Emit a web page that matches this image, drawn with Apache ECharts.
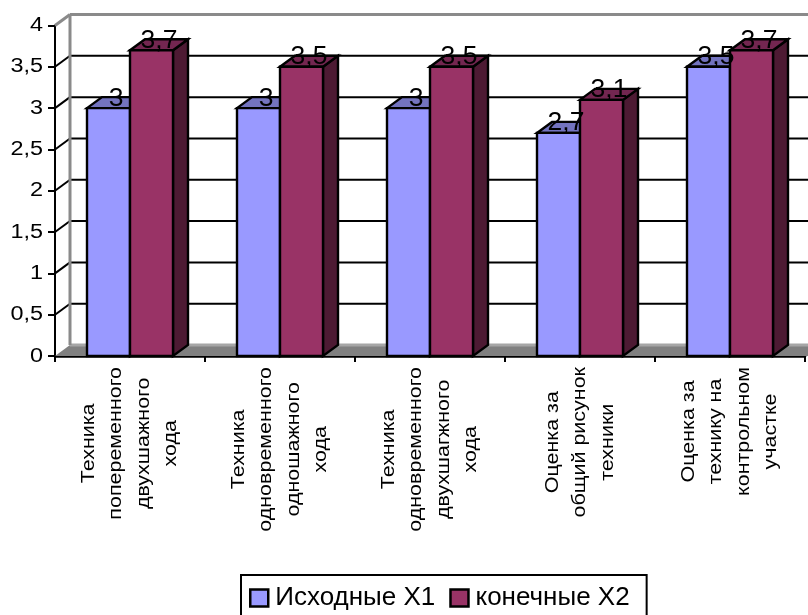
<!DOCTYPE html>
<html>
<head>
<meta charset="utf-8">
<style>html,body{margin:0;padding:0;background:#fff}#chart{width:808px;height:615px}</style>
<script src="https://cdn.jsdelivr.net/npm/echarts@6/dist/echarts.min.js"></script>
</head>
<body>
<div id="chart"></div>
<script>
const categories = [
  'Техника\nпопеременного\nдвухшажного\nхода',
  'Техника\nодновременного\nодношажного\nхода',
  'Техника\nодновременного\nдвухшагжного\nхода',
  'Оценка за\nобщий рисунок\nтехники',
  'Оценка за\nтехнику на\nконтрольном\nучастке'
];
const seriesNames = ['Исходные Х1', 'конечные Х2'];
const initialValues = [3, 3, 3, 2.7, 3.5];
const finalValues = [3.7, 3.5, 3.5, 3.1, 3.7];
const yTicks = [0, 0.5, 1, 1.5, 2, 2.5, 3, 3.5, 4];

const FONT = '"Liberation Sans", Arial, sans-serif';
const DEPTH_X = 15, DEPTH_Y = 11;
const BAR_RATIO = 43 / 150;
const TICK_STRETCH = 1.17, CAPTION_STRETCH = 1.13;
const INK = '#000', WALL = '#8a8a8a', FLOOR = '#808080', FLOOR_EDGE = '#a6a6a6';
const fills = [
  { front: '#9999ff', top: '#7373bf', side: '#5c5c99' },
  { front: '#993366', top: '#732650', side: '#4d1a33' }
];
const fmt = v => String(v).replace('.', ',');

const measure = document.createElement('canvas').getContext('2d');
function labelLength(text, font) {
  measure.font = font;
  return Math.max(...text.split('\n').map(l => measure.measureText(l).width));
}

function poly(points, fill, stroke, width) {
  return { type: 'polygon', shape: { points },
    style: { fill, stroke: stroke || null, lineWidth: width || 0, lineJoin: 'miter' } };
}
function seg(x1, y1, x2, y2, stroke, lineWidth) {
  return { type: 'line', shape: { x1, y1, x2, y2 }, style: { stroke, lineWidth } };
}

// Back wall, floor, receding gridlines and the value-axis captions.
function renderFrame(params, api) {
  const v = api.value(0);
  const [x0, y] = api.coord([0, v]);
  const left = x0 - api.size([1, 0])[0] / 2;
  const right = api.getWidth();
  const children = [];
  if (v === yTicks[0]) {
    children.push(poly([[left, y], [left + DEPTH_X, y - DEPTH_Y], [right, y - DEPTH_Y], [right, y]], FLOOR));
    children.push(seg(left + DEPTH_X, y - DEPTH_Y, right, y - DEPTH_Y, FLOOR_EDGE, 3));
  } else if (v === yTicks[yTicks.length - 1]) {
    const [, yBase] = api.coord([0, yTicks[0]]);
    children.push(seg(left + DEPTH_X, y - DEPTH_Y, left + DEPTH_X, yBase - DEPTH_Y, WALL, 3));
    children.push(seg(left + DEPTH_X, y - DEPTH_Y, right, y - DEPTH_Y, WALL, 3));
    children.push(seg(left, y, left + DEPTH_X, y - DEPTH_Y, WALL, 3));
  } else {
    children.push(seg(left, y, left + DEPTH_X, y - DEPTH_Y, INK, 2));
    children.push(seg(left + DEPTH_X, y - DEPTH_Y, right, y - DEPTH_Y, INK, 2));
  }
  children.push({ type: 'text', x: left - 12, y, scaleX: TICK_STRETCH,
    style: { text: fmt(v), x: 0, y: 0, align: 'right', verticalAlign: 'middle',
      font: '20px ' + FONT, fill: INK } });
  return { type: 'group', children };
}

function renderBars(seriesIndex) {
  return function (params, api) {
    const band = api.size([1, 0])[0];
    const w = band * BAR_RATIO;
    const [cx, yTop] = api.coord([api.value(0), api.value(1)]);
    const [, yBase] = api.coord([api.value(0), 0]);
    const x = seriesIndex === 0 ? cx - w : cx;
    const c = fills[seriesIndex];
    const dx = DEPTH_X, dy = DEPTH_Y;
    return { type: 'group', children: [
      poly([[x + w, yTop], [x + w + dx, yTop - dy], [x + w + dx, yBase - dy], [x + w, yBase]], c.side, INK, 2.4),
      poly([[x, yTop], [x + dx, yTop - dy], [x + w + dx, yTop - dy], [x + w, yTop]], c.top, INK, 2.4),
      poly([[x, yTop], [x + w, yTop], [x + w, yBase], [x, yBase]], c.front, INK, 2.4)
    ] };
  };
}

function renderValueLabel(params, api) {
  const band = api.size([1, 0])[0];
  const w = band * BAR_RATIO;
  const idx = api.value(2);
  const [cx, yTop] = api.coord([api.value(0), api.value(1)]);
  const x = (idx === 0 ? cx - w / 2 : cx + w / 2) + DEPTH_X / 2;
  return { type: 'text', x, y: yTop + 3, scaleX: 1.06,
    style: { text: fmt(api.value(1)), x: 0, y: 0,
      align: 'center', verticalAlign: 'bottom', font: '25px ' + FONT, fill: INK } };
}

// Vertical category captions: each block hangs below the axis, its lines centred.
function renderCategoryLabel(params, api) {
  const i = api.value(0);
  const [cx, yBase] = api.coord([i, 0]);
  const font = '19px ' + FONT;
  const text = categories[i];
  const len = labelLength(text, font) * CAPTION_STRETCH;
  return { type: 'text', x: cx, y: yBase + 11 + len / 2, rotation: Math.PI / 2, scaleX: CAPTION_STRETCH,
    style: { text, x: 0, y: 0, align: 'center', verticalAlign: 'middle',
      font, lineHeight: 27.5, fill: INK } };
}

const valueRows = [];
initialValues.forEach((v, i) => valueRows.push([i, v, 0]));
finalValues.forEach((v, i) => valueRows.push([i, v, 1]));

const chart = echarts.init(document.getElementById('chart'), null, { renderer: 'canvas' });
chart.setOption({
  animation: false,
  backgroundColor: '#fff',
  grid: { left: 55, right: 3, top: 25.5, bottom: 259, containLabel: false },
  legend: {
    data: seriesNames,
    left: 241, top: 575,
    padding: [10, 17, 12, 8],
    itemGap: 14, itemWidth: 18, itemHeight: 17,
    borderColor: INK, borderWidth: 2, borderRadius: 0,
    icon: 'rect',
    itemStyle: { borderColor: INK, borderWidth: 2.5 },
    textStyle: { fontFamily: FONT, fontSize: 26, color: INK, padding: [0, 0, 0, 2] }
  },
  xAxis: {
    type: 'category', data: categories,
    axisLine: { onZero: false, lineStyle: { color: INK, width: 2.5 } },
    axisTick: { show: true, alignWithLabel: false, length: 6, lineStyle: { color: INK, width: 2 } },
    axisLabel: { show: false },
    splitLine: { show: false }
  },
  yAxis: {
    type: 'value', min: 0, max: 4, interval: 0.5,
    axisLine: { show: true, lineStyle: { color: INK, width: 2 } },
    axisTick: { show: true, length: 7, lineStyle: { color: INK, width: 2 } },
    axisLabel: { show: false },
    splitLine: { show: false }
  },
  series: [
    { type: 'custom', name: 'frame', z: 1, silent: true, clip: false, renderItem: renderFrame,
      data: yTicks.map(v => [v]), encode: { y: 0 } },
    { type: 'custom', name: seriesNames[0], z: 3, clip: false, renderItem: renderBars(0),
      itemStyle: { color: fills[0].front, borderColor: INK, borderWidth: 2 },
      data: initialValues.map((v, i) => [i, v]), encode: { x: 0, y: 1 } },
    { type: 'custom', name: seriesNames[1], z: 4, clip: false, renderItem: renderBars(1),
      itemStyle: { color: fills[1].front, borderColor: INK, borderWidth: 2 },
      data: finalValues.map((v, i) => [i, v]), encode: { x: 0, y: 1 } },
    { type: 'custom', name: 'values', z: 5, silent: true, clip: false, renderItem: renderValueLabel,
      data: valueRows, encode: { x: 0, y: 1 } },
    { type: 'custom', name: 'captions', z: 5, silent: true, clip: false, renderItem: renderCategoryLabel,
      data: categories.map((c, i) => [i]), encode: { x: 0 } }
  ]
});
</script>
</body>
</html>
